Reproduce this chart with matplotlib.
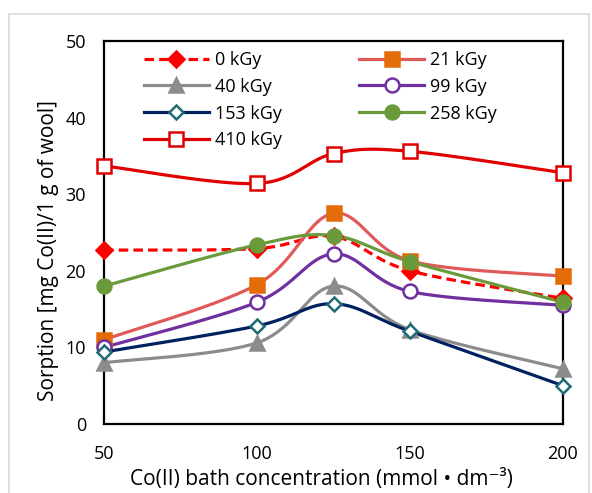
import numpy as np
import matplotlib
matplotlib.use("Agg")
import matplotlib.pyplot as plt
from matplotlib.lines import Line2D
from matplotlib.patches import Rectangle

plt.rcParams["font.family"] = ["Open Sans", "DejaVu Sans"]

# Co(II) bath concentration, mmol/dm3
conc = [50, 100, 125, 150, 200]

# sorption [mg Co(II) / 1 g wool] per absorbed dose
dose_labels = ["0 kGy", "21 kGy", "40 kGy", "99 kGy", "153 kGy", "258 kGy", "410 kGy"]
s_0 = [22.7, 22.9, 24.5, 20.0, 16.4]
s_21 = [11.0, 18.2, 27.5, 21.3, 19.3]
s_40 = [8.0, 10.6, 18.0, 12.3, 7.2]
s_99 = [10.0, 15.9, 22.2, 17.3, 15.5]
s_153 = [9.4, 12.8, 15.7, 12.1, 5.0]
s_258 = [18.0, 23.4, 24.6, 21.2, 15.9]
s_410 = [33.7, 31.4, 35.3, 35.6, 32.8]
series = [s_0, s_21, s_40, s_99, s_153, s_258, s_410]

styles = [
    dict(color="#FF0000", ls=(0, (3, 1.6)), marker="D", mfc="#FF0000", mec="#FF0000", ms=8),
    dict(color="#E05A5A", ls="-", marker="s", mfc="#E36C09", mec="#E36C09", ms=10),
    dict(color="#8C8C8C", ls="-", marker="^", mfc="#8C8C8C", mec="#8C8C8C", ms=10),
    dict(color="#7030A0", ls="-", marker="o", mfc="white", mec="#7030A0", ms=10),
    dict(color="#002060", ls="-", marker="D", mfc="white", mec="#1F6B75", ms=7),
    dict(color="#6A9A3A", ls="-", marker="o", mfc="#6A9A3A", mec="#6A9A3A", ms=10),
    dict(color="#E00000", ls="-", marker="s", mfc="white", mec="#E00000", ms=10),
]

XMIN, XMAX, YMIN, YMAX = 50, 200, 0, 50


def smooth(xs, ys, sx=460 / 150, sy=381 / 50, n=40):
    # spreadsheet-style smoothed line: cubic Bezier through points, Catmull-Rom tangents
    p = np.column_stack([np.asarray(xs, float) * sx, np.asarray(ys, float) * sy])
    out = []
    for i in range(len(p) - 1):
        p0 = p[i - 1] if i > 0 else p[i]
        p1, p2 = p[i], p[i + 1]
        p3 = p[i + 2] if i + 2 < len(p) else p[i + 1]
        c1 = p1 + (p2 - p0) / 6
        c2 = p2 - (p3 - p1) / 6
        t = np.linspace(0, 1, n)[:, None]
        seg = (1 - t) ** 3 * p1 + 3 * (1 - t) ** 2 * t * c1 + 3 * (1 - t) * t ** 2 * c2 + t ** 3 * p2
        out.append(seg if i == 0 else seg[1:])
    out = np.vstack(out)
    return out[:, 0] / sx, out[:, 1] / sy


fig = plt.figure(figsize=(5.92, 4.93), dpi=100)
fig.patches.append(Rectangle((9 / 592, -0.05), 580 / 592, 1 - 14 / 493 + 0.05,
                             transform=fig.transFigure, fill=False,
                             edgecolor="#D9D9D9", linewidth=1.2))
ax = fig.add_axes([104 / 592, 1 - 424 / 493, 459 / 592, 383 / 493])

handles = []
for ys, st, lab in zip(series, styles, dose_labels):
    sxs, sys_ = smooth(conc, ys)
    ax.plot(sxs, sys_, color=st["color"], ls=st["ls"], lw=2.3, clip_on=False, zorder=3)
    ax.plot(conc, ys, ls="none", marker=st["marker"], ms=st["ms"], mfc=st["mfc"],
            mec=st["mec"], mew=1.8, clip_on=False, zorder=4)
    handles.append(Line2D([], [], color=st["color"], ls=st["ls"], lw=2.3,
                          marker=st["marker"], ms=st["ms"], mfc=st["mfc"],
                          mec=st["mec"], mew=1.8, label=lab))

order = [0, 2, 4, 6, 1, 3, 5]
ax.legend([handles[i] for i in order], [dose_labels[i] for i in order],
          ncol=2, loc="upper left", bbox_to_anchor=(0.055, 1.012), frameon=False,
          fontsize=13, handlelength=3.6, handletextpad=0.35, columnspacing=4.27,
          labelspacing=0.49, borderaxespad=0.4)

ax.set_xlim(XMIN, XMAX)
ax.set_ylim(YMIN, YMAX)
ax.set_xticks([50, 100, 150, 200])
ax.set_yticks([0, 10, 20, 30, 40, 50])
ax.tick_params(length=0, labelsize=13, colors="black")
ax.tick_params(axis="x", pad=15)
ax.tick_params(axis="y", pad=13)
for sp in ax.spines.values():
    sp.set_linewidth(1.6)
    sp.set_color("black")

ax.set_xlabel("Co(II) bath concentration (mmol \u2022 dm\u207b\u00b3)", fontsize=15)
ax.set_ylabel("Sorption [mg Co(II)/1 g of wool]", fontsize=15)
ax.xaxis.set_label_coords(0.473, -0.118)
ax.yaxis.set_label_coords(-0.097, 0.454)

fig.savefig("out.png", dpi=100)
